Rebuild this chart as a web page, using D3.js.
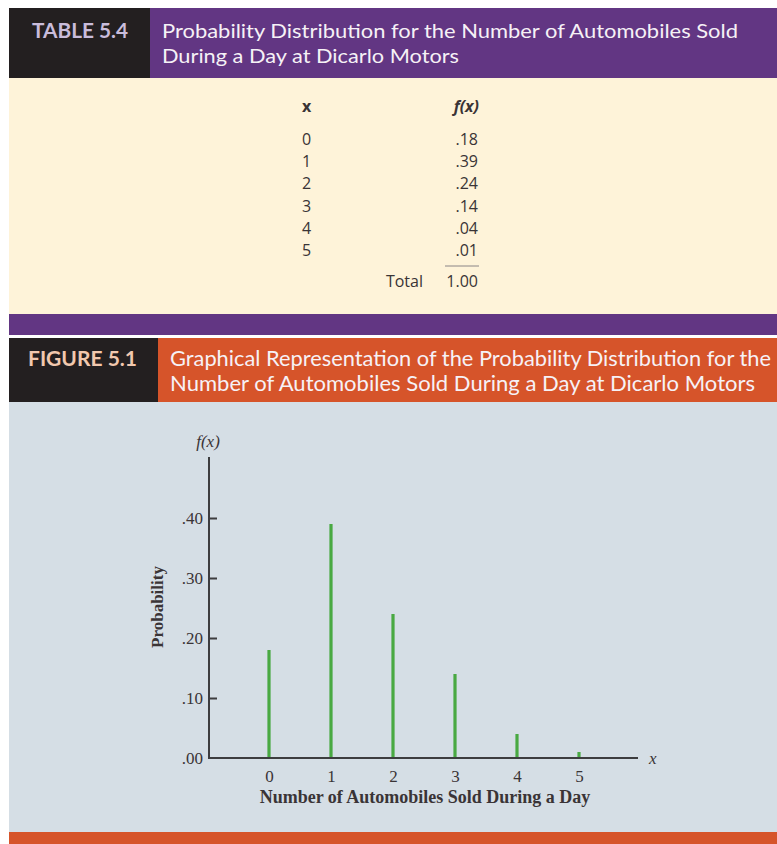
<!DOCTYPE html>
<html>
<head>
<meta charset="utf-8">
<script src="https://cdn.jsdelivr.net/npm/d3@7"></script>
<style>
  html, body { margin: 0; padding: 0; background: #ffffff; }
  svg { display: block; }
</style>
</head>
<body>
<svg id="chart" width="777" height="844"></svg>
<script>
// ---- Data ----
const xValues = [0, 1, 2, 3, 4, 5];
const probabilities = [0.18, 0.39, 0.24, 0.14, 0.04, 0.01];
const totalLabel = "Total";
const totalValue = 1.00;
const yTicks = [0, 0.10, 0.20, 0.30, 0.40];
const tableLabel = "TABLE 5.4";
const tableTitle = ["Probability Distribution for the Number of Automobiles Sold", "During a Day at Dicarlo Motors"];
const figureLabel = "FIGURE 5.1";
const figureTitle = ["Graphical Representation of the Probability Distribution for the", "Number of Automobiles Sold During a Day at Dicarlo Motors"];
const xAxisTitle = "Number of Automobiles Sold During a Day";
const yAxisTitle = "Probability";

// ---- Styles ----
const C = {
  dark: "#231f20", purple: "#623683", cream: "#fef3d9", orange: "#d6542a",
  panel: "#d5dee5", tableLabel: "#c9bcdb", figLabel: "#f2c8ae", title: "#f6f1f6",
  text: "#3a3436", axis: "#3d3d3f", green: "#49a942"
};
const sans = "Lato, 'Open Sans', 'DejaVu Sans', sans-serif";
const tsans = "'Open Sans', Lato, 'DejaVu Sans', sans-serif";
const serif = "'Liberation Serif', 'DejaVu Serif', serif";

const svg = d3.select("#chart");
const fmtProb = v => d3.format(".2f")(v).replace(/^0(?=\.)/, "");

// ---- Table header ----
svg.append("rect").attr("x", 9).attr("y", 8).attr("width", 768).attr("height", 70).attr("fill", C.purple);
svg.append("rect").attr("x", 9).attr("y", 8).attr("width", 141).attr("height", 70).attr("fill", C.dark);
svg.append("text").attr("x", 32).attr("y", 38).attr("font-family", sans).attr("font-weight", 700)
  .attr("font-size", 20).attr("fill", C.tableLabel)
  .attr("textLength", 96).attr("lengthAdjust", "spacingAndGlyphs").text(tableLabel);
const tW = [576, 297];
tableTitle.forEach((t, i) => {
  svg.append("text").attr("x", 162).attr("y", 38 + i * 25).attr("font-family", sans)
    .attr("font-size", 20).attr("fill", C.title)
    .attr("textLength", tW[i]).attr("lengthAdjust", "spacingAndGlyphs").text(t);
});

// ---- Table body ----
svg.append("rect").attr("x", 9).attr("y", 78).attr("width", 768).attr("height", 236).attr("fill", C.cream);
const tbl = svg.append("g").attr("font-family", tsans).attr("font-size", 16).attr("fill", C.text);
tbl.append("text").attr("x", 302).attr("y", 112).attr("font-weight", 700).text("x");
tbl.append("text").attr("x", 479).attr("y", 112).attr("text-anchor", "end")
  .attr("font-weight", 700).attr("font-style", "italic").text("f(x)");
const rowY = d3.scaleLinear().domain([0, 5]).range([145, 256]);
xValues.forEach((xv, i) => {
  tbl.append("text").attr("x", 302).attr("y", rowY(i)).text(xv);
  tbl.append("text").attr("x", 478).attr("y", rowY(i)).attr("text-anchor", "end").text(fmtProb(probabilities[i]));
});
tbl.append("line").attr("x1", 445).attr("x2", 479).attr("y1", 266).attr("y2", 266)
  .attr("stroke", "#8a8486").attr("stroke-width", 1);
tbl.append("text").attr("x", 423).attr("y", 287).attr("text-anchor", "end").text(totalLabel);
tbl.append("text").attr("x", 478).attr("y", 287).attr("text-anchor", "end").text(d3.format(".2f")(totalValue));

// purple band
svg.append("rect").attr("x", 9).attr("y", 314).attr("width", 768).attr("height", 21).attr("fill", C.purple);

// ---- Figure header ----
svg.append("rect").attr("x", 9).attr("y", 338).attr("width", 768).attr("height", 64).attr("fill", C.orange);
svg.append("rect").attr("x", 9).attr("y", 338).attr("width", 149).attr("height", 64).attr("fill", C.dark);
svg.append("text").attr("x", 28).attr("y", 366).attr("font-family", sans).attr("font-weight", 700)
  .attr("font-size", 21).attr("fill", C.figLabel)
  .attr("textLength", 109).attr("lengthAdjust", "spacingAndGlyphs").text(figureLabel);
const fW = [601, 585];
figureTitle.forEach((t, i) => {
  svg.append("text").attr("x", 170).attr("y", 366 + i * 25).attr("font-family", sans)
    .attr("font-size", 20.5).attr("fill", C.title)
    .attr("textLength", fW[i]).attr("lengthAdjust", "spacingAndGlyphs").text(t);
});

// ---- Chart panel ----
svg.append("rect").attr("x", 9).attr("y", 402).attr("width", 768).attr("height", 430).attr("fill", C.panel);
svg.append("rect").attr("x", 9).attr("y", 832).attr("width", 768).attr("height", 12).attr("fill", C.orange);

const xScale = d3.scaleLinear().domain([0, 5]).range([269, 579]);
const yScale = d3.scaleLinear().domain([0, 0.40]).range([758, 518]);
const axisX0 = 209, axisXEnd = 638, axisYTop = 457;

// bars (vertical lines)
svg.append("g").selectAll("line").data(xValues).join("line")
  .attr("x1", d => xScale(d)).attr("x2", d => xScale(d))
  .attr("y1", yScale(0)).attr("y2", (d, i) => yScale(probabilities[i]))
  .attr("stroke", C.green).attr("stroke-width", 3.2);

// y axis
const yAxis = d3.axisLeft(yScale).tickValues(yTicks).tickSize(-8).tickPadding(6)
  .tickFormat(fmtProb);
const gy = svg.append("g").attr("transform", `translate(${axisX0},0)`).call(yAxis);
gy.select(".domain").remove();
gy.selectAll(".tick line").attr("stroke", C.axis).attr("stroke-width", 2)
  .filter(d => d === 0).remove();
gy.selectAll(".tick text").attr("font-family", serif).attr("font-size", 17).attr("fill", C.text);

// x axis
const xAxis = d3.axisBottom(xScale).tickValues(xValues).tickSize(0).tickPadding(12).tickFormat(d3.format("d"));
const gx = svg.append("g").attr("transform", `translate(0,${yScale(0)})`).call(xAxis);
gx.select(".domain").remove();
gx.selectAll(".tick text").attr("font-family", serif).attr("font-size", 17).attr("fill", C.text);

svg.append("line").attr("x1", axisX0).attr("x2", axisX0).attr("y1", axisYTop).attr("y2", yScale(0) + 1)
  .attr("stroke", C.axis).attr("stroke-width", 2);
svg.append("line").attr("x1", axisX0 - 1).attr("x2", axisXEnd).attr("y1", yScale(0)).attr("y2", yScale(0))
  .attr("stroke", C.axis).attr("stroke-width", 2);

// axis labels
svg.append("text").attr("x", 208).attr("y", 447).attr("text-anchor", "middle")
  .attr("font-family", serif).attr("font-style", "italic").attr("font-size", 17).attr("fill", C.text).text("f(x)");
svg.append("text").attr("x", 649).attr("y", 764)
  .attr("font-family", serif).attr("font-style", "italic").attr("font-size", 17).attr("fill", C.text).text("x");
svg.append("text").attr("x", 425).attr("y", 803).attr("text-anchor", "middle")
  .attr("font-family", serif).attr("font-weight", 700).attr("font-size", 18).attr("fill", C.text).text(xAxisTitle);
svg.append("text").attr("transform", "translate(163,607) rotate(-90)").attr("text-anchor", "middle")
  .attr("font-family", serif).attr("font-weight", 700).attr("font-size", 17).attr("fill", C.text).text(yAxisTitle);
</script>
</body>
</html>
